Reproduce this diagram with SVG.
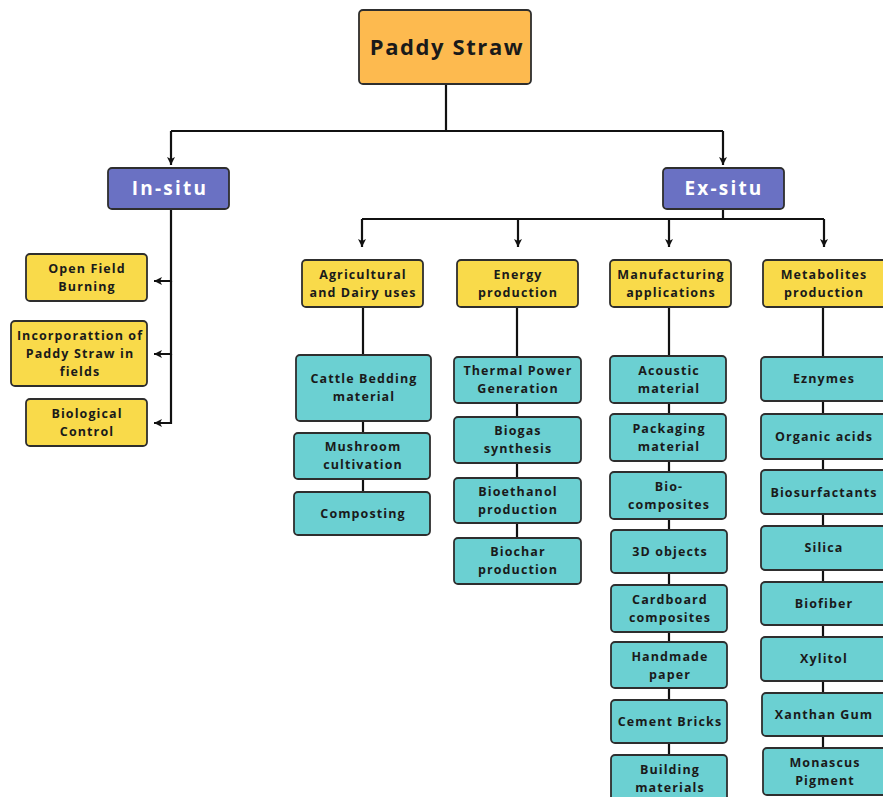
<svg xmlns="http://www.w3.org/2000/svg" width="883" height="797" viewBox="0 0 883 797">
<defs>
<marker id="arr" viewBox="0 0 10 10" refX="9" refY="5" markerWidth="10" markerHeight="10" markerUnits="userSpaceOnUse" orient="auto">
<path d="M1,1 L9,5 L1,9 L3,5 Z" fill="#111"/>
</marker>
<style>
.c{fill:none;stroke:#111;stroke-width:2.2}
.b{stroke:#2e2e2e;stroke-width:1.8}
.root{fill:#FDBA4F}
.mid{fill:#6A71C3}
.yel{fill:#F9DA4A}
.teal{fill:#6BD0D2}
text{font-family:"Open Sans","Liberation Sans",sans-serif;font-weight:700;text-anchor:middle;fill:#1a1a1a}
.s{font-size:12.5px;letter-spacing:1.1px}
.w{fill:#ffffff;font-size:19px;letter-spacing:2.2px}
.r{font-size:22px;letter-spacing:1.6px}
</style>
</defs>
<rect width="883" height="797" fill="#ffffff"/>
<g id="connectors">
<path class="c" d="M446,84 V131 M171,131 H723"/>
<path class="c" d="M171,131 V165" marker-end="url(#arr)"/>
<path class="c" d="M723,131 V165" marker-end="url(#arr)"/>
<path class="c" d="M171,209 V281 H154" marker-end="url(#arr)"/>
<path class="c" d="M171,281 V354 H154" marker-end="url(#arr)"/>
<path class="c" d="M171,354 V423 H154" marker-end="url(#arr)"/>
<path class="c" d="M723,209 V219 M362,219 H824"/>
<path class="c" d="M362,219 V247" marker-end="url(#arr)"/>
<path class="c" d="M518,219 V247" marker-end="url(#arr)"/>
<path class="c" d="M669,219 V247" marker-end="url(#arr)"/>
<path class="c" d="M824,219 V247" marker-end="url(#arr)"/>
<path class="c" d="M363,307 V492"/>
<path class="c" d="M517,307 V538"/>
<path class="c" d="M669,307 V760"/>
<path class="c" d="M823,307 V750"/>
</g>
<g id="paddy"><rect class="b root" x="359" y="10" width="172" height="74" rx="4"/><text class="r" x="447" y="55">Paddy Straw</text></g>
<g id="insitu"><rect class="b mid" x="108" y="168" width="121" height="41" rx="4"/><text class="w" x="170" y="195">In-situ</text></g>
<g id="exsitu"><rect class="b mid" x="663" y="168" width="121" height="41" rx="4"/><text class="w" x="724" y="195">Ex-situ</text></g>

<g id="open-field"><rect class="b yel" x="26" y="254" width="121" height="47" rx="4"/><text class="s" x="87" y="273">Open Field<tspan x="87" dy="18">Burning</tspan></text></g>
<g id="incorporation"><rect class="b yel" x="11" y="321" width="136" height="65" rx="4"/><text class="s" x="80" y="340">Incorporattion of<tspan x="80" dy="18">Paddy Straw in</tspan><tspan x="80" dy="18">fields</tspan></text></g>
<g id="biocontrol"><rect class="b yel" x="26" y="399" width="121" height="47" rx="4"/><text class="s" x="87" y="418">Biological<tspan x="87" dy="18">Control</tspan></text></g>

<g id="agri"><rect class="b yel" x="302" y="260" width="121" height="47" rx="4"/><text class="s" x="363" y="279">Agricultural<tspan x="363" dy="18">and Dairy uses</tspan></text></g>
<g id="energy"><rect class="b yel" x="457" y="260" width="121" height="47" rx="4"/><text class="s" x="518" y="279">Energy<tspan x="518" dy="18">production</tspan></text></g>
<g id="manufacturing"><rect class="b yel" x="610" y="260" width="121" height="47" rx="4"/><text class="s" x="671" y="279">Manufacturing<tspan x="671" dy="18">applications</tspan></text></g>
<g id="metabolites"><rect class="b yel" x="763" y="260" width="124" height="47" rx="4"/><text class="s" x="824" y="279">Metabolites<tspan x="824" dy="18">production</tspan></text></g>

<g id="cattle"><rect class="b teal" x="296" y="355" width="135" height="66" rx="4"/><text class="s" x="364" y="383">Cattle Bedding<tspan x="364" dy="18">material</tspan></text></g>
<g id="mushroom"><rect class="b teal" x="294" y="433" width="136" height="46" rx="4"/><text class="s" x="363" y="451">Mushroom<tspan x="363" dy="18">cultivation</tspan></text></g>
<g id="composting"><rect class="b teal" x="294" y="492" width="136" height="43" rx="4"/><text class="s" x="363" y="518">Composting</text></g>

<g id="thermal"><rect class="b teal" x="454" y="357" width="127" height="46" rx="4"/><text class="s" x="518" y="375">Thermal Power<tspan x="518" dy="18">Generation</tspan></text></g>
<g id="biogas"><rect class="b teal" x="454" y="417" width="127" height="46" rx="4"/><text class="s" x="518" y="435">Biogas<tspan x="518" dy="18">synthesis</tspan></text></g>
<g id="bioethanol"><rect class="b teal" x="454" y="478" width="127" height="45" rx="4"/><text class="s" x="518" y="496">Bioethanol<tspan x="518" dy="18">production</tspan></text></g>
<g id="biochar"><rect class="b teal" x="454" y="538" width="127" height="46" rx="4"/><text class="s" x="518" y="556">Biochar<tspan x="518" dy="18">production</tspan></text></g>

<g id="acoustic"><rect class="b teal" x="610" y="356" width="116" height="47" rx="4"/><text class="s" x="669" y="375">Acoustic<tspan x="669" dy="18">material</tspan></text></g>
<g id="packaging"><rect class="b teal" x="610" y="414" width="116" height="47" rx="4"/><text class="s" x="669" y="433">Packaging<tspan x="669" dy="18">material</tspan></text></g>
<g id="biocomposites"><rect class="b teal" x="610" y="472" width="116" height="47" rx="4"/><text class="s" x="669" y="491">Bio-<tspan x="669" dy="18">composites</tspan></text></g>
<g id="objects3d"><rect class="b teal" x="611" y="530" width="116" height="43" rx="4"/><text class="s" x="670" y="556">3D objects</text></g>
<g id="cardboard"><rect class="b teal" x="611" y="585" width="116" height="47" rx="4"/><text class="s" x="670" y="604">Cardboard<tspan x="670" dy="18">composites</tspan></text></g>
<g id="handmade"><rect class="b teal" x="611" y="642" width="116" height="46" rx="4"/><text class="s" x="670" y="661">Handmade<tspan x="670" dy="18">paper</tspan></text></g>
<g id="cement"><rect class="b teal" x="611" y="700" width="116" height="43" rx="4"/><text class="s" x="670" y="726">Cement Bricks</text></g>
<g id="building"><rect class="b teal" x="611" y="755" width="116" height="50" rx="4"/><text class="s" x="670" y="774">Building<tspan x="670" dy="18">materials</tspan></text></g>

<g id="enzymes"><rect class="b teal" x="761" y="357" width="126" height="44" rx="4"/><text class="s" x="824" y="383">Eznymes</text></g>
<g id="organic"><rect class="b teal" x="761" y="414" width="126" height="45" rx="4"/><text class="s" x="824" y="441">Organic acids</text></g>
<g id="biosurfactants"><rect class="b teal" x="761" y="470" width="126" height="44" rx="4"/><text class="s" x="824" y="497">Biosurfactants</text></g>
<g id="silica"><rect class="b teal" x="761" y="526" width="126" height="44" rx="4"/><text class="s" x="824" y="552">Silica</text></g>
<g id="biofiber"><rect class="b teal" x="761" y="582" width="126" height="43" rx="4"/><text class="s" x="824" y="608">Biofiber</text></g>
<g id="xylitol"><rect class="b teal" x="761" y="637" width="126" height="44" rx="4"/><text class="s" x="824" y="663">Xylitol</text></g>
<g id="xanthan"><rect class="b teal" x="762" y="693" width="125" height="43" rx="4"/><text class="s" x="824" y="719">Xanthan Gum</text></g>
<g id="monascus"><rect class="b teal" x="763" y="748" width="124" height="47" rx="4"/><text class="s" x="825" y="767">Monascus<tspan x="825" dy="18">Pigment</tspan></text></g>
</svg>
